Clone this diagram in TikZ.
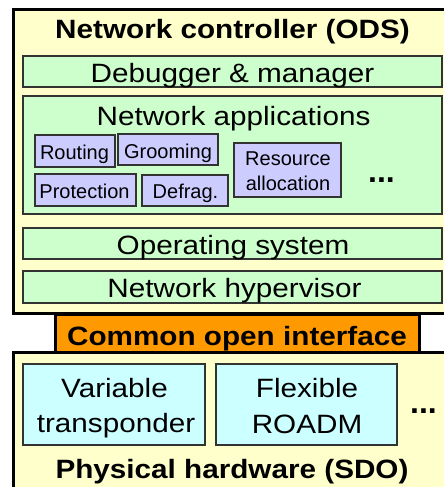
\documentclass[tikz,border=0pt]{standalone}
\usepackage{fontspec}
\setmainfont{Liberation Sans}
\newfontfamily\bigf[FakeStretch=1.12]{Liberation Sans}
\definecolor{ylw}{HTML}{FFFFCC}
\definecolor{grn}{HTML}{CCFFCC}
\definecolor{lav}{HTML}{CCCCFF}
\definecolor{cyn}{HTML}{CCFFFF}
\definecolor{org}{HTML}{FF9900}
\begin{document}
\begin{tikzpicture}[x=1pt,y=-1pt,
  container/.style={draw=black, line width=3pt, fill=ylw, inner sep=0pt},
  layer/.style={draw=black!80, line width=1.6pt, fill=grn, inner sep=0pt, minimum width=419pt},
  app/.style={draw=black!80, line width=1.6pt, fill=lav, inner sep=0pt},
  hw/.style={draw=black!80, line width=1.6pt, fill=cyn, inner sep=0pt},
  bigtext/.style={inner sep=0pt, anchor=base, font=\bigf\fontsize{26.5}{30}\selectfont},
  boldtext/.style={inner sep=0pt, anchor=base, font=\bigf\bfseries\fontsize{26.5}{30}\selectfont},
  smalltext/.style={inner sep=0pt, anchor=base, font=\fontsize{20}{24}\selectfont},
  dots/.style={inner sep=0pt, anchor=base, font=\bfseries\fontsize{32}{34}\selectfont}
]
\useasboundingbox (0,0) rectangle (444,487);
\clip (0,0) rectangle (444,487);
\fill[white] (0,0) rectangle (444,487);

% upper container
\node[container, minimum width=457pt, minimum height=303.5pt] (ctrl) at (241.5,161.75) {};
\node[boldtext] (ctrltitle) at (232.5,39) {Network controller (ODS)};

\node[layer, minimum height=31pt] (dbg) at (232.5,71.5) {};
\node[bigtext] (dbgtext) at (232.5,82) {Debugger \& manager};
\node[layer, minimum height=118pt] (apps) at (232.5,155) {};
\node[bigtext] (appstitle) at (233.5,125) {Network applications};

\node[app, minimum width=80pt, minimum height=32pt] (routing) at (75,151) {};
\node[smalltext] (routingtext) at (74.5,159) {Routing};
\node[app, minimum width=100pt, minimum height=31pt] (grooming) at (168,149.5) {};
\node[smalltext] (groomingtext) at (168,158) {Grooming};
\node[app, minimum width=101pt, minimum height=32pt] (protection) at (85.5,190) {};
\node[smalltext] (protectiontext) at (84.5,198) {Protection};
\node[app, minimum width=86pt, minimum height=31pt] (defrag) at (185,190.5) {};
\node[smalltext] (defragtext) at (185.5,198) {Defrag.};
\node[app, minimum width=107pt, minimum height=54pt] (resource) at (287.5,170) {};
\node[smalltext] (resourcetext1) at (288,165) {Resource};
\node[smalltext] (resourcetext2) at (288,190) {allocation};
\node[dots] (appdots) at (381.5,182) {...};

\node[layer, minimum height=31pt] (os) at (232.5,243.5) {};
\node[bigtext] (ostext) at (233,254.5) {Operating system};
\node[layer, minimum height=32pt] (hyp) at (232.5,287) {};
\node[bigtext] (hyptext) at (234.5,297) {Network hypervisor};

% lower container
\node[container, minimum width=457pt, minimum height=158pt] (hwbox) at (241.5,431) {};

% interface
\node[draw=black, line width=3pt, fill=org, inner sep=0pt, minimum width=364pt, minimum height=38pt] (iface) at (237,333) {};
\node[boldtext] (ifacetext) at (237,345) {Common open interface};

\node[hw, minimum width=182pt, minimum height=81pt] (vt) at (114,404.5) {};
\node[bigtext] (vttext1) at (114.5,397) {Variable};
\node[bigtext] (vttext2) at (116,432) {transponder};
\node[hw, minimum width=181pt, minimum height=81pt] (roadm) at (306.5,404.5) {};
\node[bigtext] (roadmtext1) at (307,397) {Flexible};
\node[bigtext] (roadmtext2) at (307,433) {ROADM};
\node[dots] (hwdots) at (423.5,413) {...};
\node[boldtext] (hwtitle) at (232,478) {Physical hardware (SDO)};
\end{tikzpicture}
\end{document}
